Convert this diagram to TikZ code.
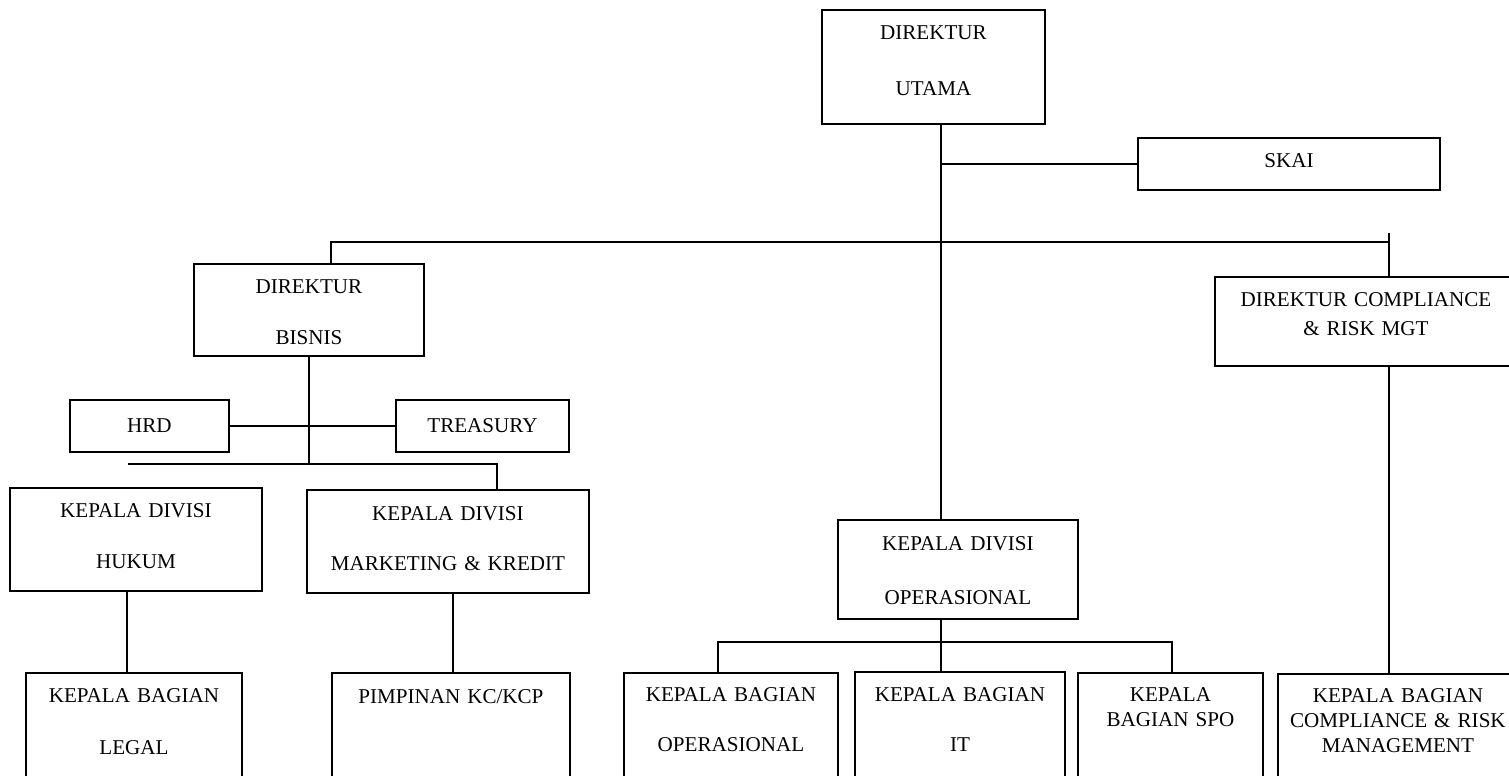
\documentclass[tikz,border=0pt]{standalone}
\usepackage{fontspec}
\setmainfont{Liberation Serif}

\tikzset{
  unit/.style={draw, line width=1.1pt, inner sep=0pt, anchor=north west, align=center,
    font=\fontsize{12}{14.2}\selectfont},
  link/.style={line width=1.1pt}
}

\begin{document}
\begin{tikzpicture}[x=0.02cm, y=-0.02cm]
\useasboundingbox (0,0) rectangle (1509,776);
\clip (0,0) rectangle (1509,776);

% Directors
\node[unit, text width=44.6mm, text height=6mm, text depth=16.8mm] (utama) at (821,9) {DIREKTUR\\[17.6pt]UTAMA};
\node[unit, text width=60.4mm, text height=6mm, text depth=4.4mm] (skai) at (1137,137) {SKAI};
\node[unit, text width=46mm, text height=6mm, text depth=12.4mm] (bisnis) at (193,263) {DIREKTUR\\[14.8pt]BISNIS};
\node[unit, text width=60.4mm, text height=6mm, text depth=11.8mm] (dircomp) at (1214,276) {DIREKTUR COMPLIANCE\\[2.3pt]\& RISK MGT};

% Staff of bisnis
\node[unit, text width=31.8mm, text height=6.6mm, text depth=3.8mm] (hrd) at (69,399) {HRD};
\node[unit, text width=34.6mm, text height=6.6mm, text depth=3.8mm] (treasury) at (395,399) {TREASURY};

% Divisions
\node[unit, text width=50.4mm, text height=6mm, text depth=14.6mm] (hukum) at (9,487) {KEPALA DIVISI\\[14.8pt]HUKUM};
\node[unit, text width=56.4mm, text height=6.2mm, text depth=14.4mm] (mkt) at (306,489) {KEPALA DIVISI\\[14.2pt]MARKETING \& KREDIT};
\node[unit, text width=48mm, text height=6.2mm, text depth=13.6mm] (opsdiv) at (837,519) {KEPALA DIVISI\\[16.5pt]OPERASIONAL};

% Sections
\node[unit, text width=43.2mm, text height=6mm, text depth=19.6mm] (legal) at (25,672) {KEPALA BAGIAN\\[15.4pt]LEGAL};
\node[unit, text width=47.6mm, text height=6.2mm, text depth=19.4mm] (kckcp) at (331,672) {PIMPINAN KC/KCP};
\node[unit, text width=42.8mm, text height=5.8mm, text depth=19.8mm] (bagops) at (623,672) {KEPALA BAGIAN\\[14.2pt]OPERASIONAL};
\node[unit, text width=42mm, text height=6mm, text depth=19.8mm] (bagit) at (854,671) {KEPALA BAGIAN\\[14.2pt]IT};
\node[unit, text width=37mm, text height=5.8mm, text depth=19.8mm] (bagspo) at (1077,672) {KEPALA\\BAGIAN SPO};
\node[unit, text width=48mm, text height=5.8mm, text depth=19.6mm] (bagcomp) at (1277,673) {KEPALA BAGIAN\\COMPLIANCE \& RISK\\MANAGEMENT};

% Bus points
\coordinate (trunk) at (941,0);
\coordinate (busA) at (331,242);
\coordinate (busB) at (1389,242);
\coordinate (busBtop) at (1389,233);
\coordinate (busL) at (128,464);
\coordinate (busR) at (497,464);
\coordinate (colH) at (127,0);
\coordinate (colM) at (453,0);
\coordinate (opsL) at (718,642);
\coordinate (opsR) at (1172,642);

% Lines
\draw[link] (trunk |- utama.south) -- (trunk |- opsdiv.north);
\draw[link] (trunk |- skai.west) -- (skai.west);
\draw[link] (busA |- bisnis.north) -- (busA) -- (busB);
\draw[link] (busBtop) -- (busBtop |- dircomp.north);
\draw[link] (bisnis.south) -- (bisnis.south |- busL);
\draw[link] (hrd.east) -- (treasury.west);
\draw[link] (busL) -- (busR) -- (busR |- mkt.north);
\draw[link] (colH |- hukum.south) -- (colH |- legal.north);
\draw[link] (colM |- mkt.south) -- (colM |- kckcp.north);
\draw[link] (trunk |- opsdiv.south) -- (trunk |- bagit.north);
\draw[link] (opsL |- bagops.north) -- (opsL) -- (opsR) -- (opsR |- bagspo.north);
\draw[link] (busB |- dircomp.south) -- (busB |- bagcomp.north);

\end{tikzpicture}
\end{document}
